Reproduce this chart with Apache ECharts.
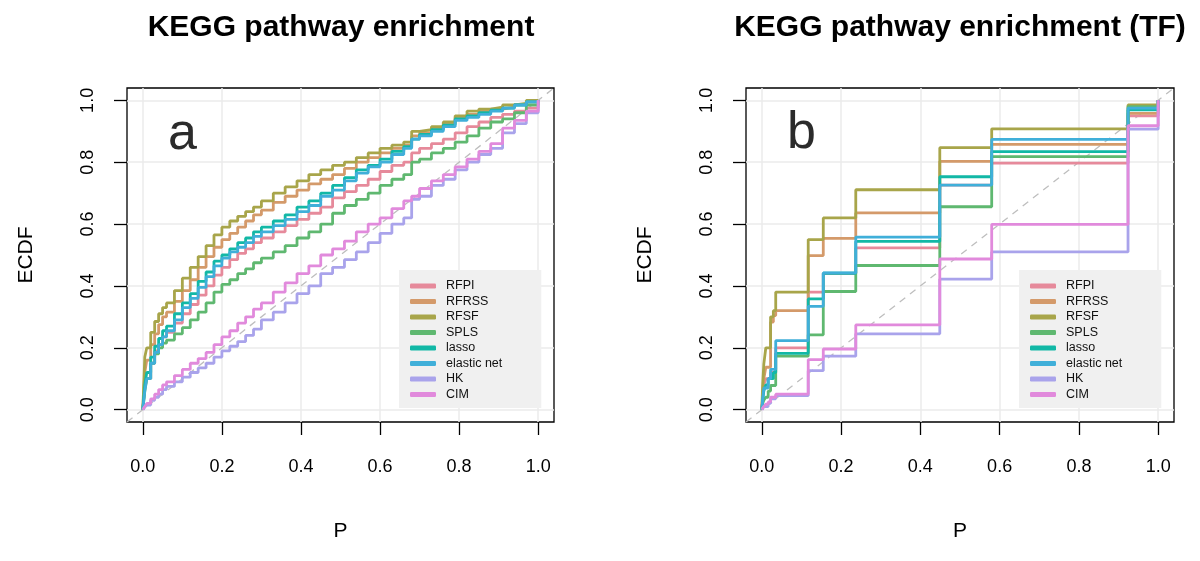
<!DOCTYPE html>
<html><head><meta charset="utf-8">
<script src="https://cdn.jsdelivr.net/npm/echarts@6/dist/echarts.min.js"></script>
<style>html,body{margin:0;padding:0;background:#fff}#c{width:1200px;height:561px}</style>
</head><body><div id="c"></div>
<script>
// ---------- data ----------
const methods = ['RFPI','RFRSS','RFSF','SPLS','lasso','elastic net','HK','CIM'];
const colors  = ['#E68A9B','#D49A6A','#A8A54A','#5FB870','#12B8A6','#40AFD9','#A9A3EB','#E18ADC'];
const tickValues = [0, 0.2, 0.4, 0.6, 0.8, 1.0];
const titleA = 'KEGG pathway enrichment';
const titleB = 'KEGG pathway enrichment (TF)';
const diagEnds = [-0.04, 1.04];
const tagPos = [0.1, 0.9];

// panel a: P grid and ECDF values
const pA = [0,0.005,0.01,0.02,0.03,0.04,0.05,0.06,0.08,0.10,0.12,0.14,0.16,0.18,0.20,0.22,0.24,0.26,0.28,0.30,0.33,0.36,0.39,0.42,0.45,0.48,0.51,0.54,0.57,0.60,0.63,0.66,0.68,0.70,0.73,0.76,0.79,0.82,0.85,0.88,0.91,0.94,0.97,1.00];
const aRFPI  = [0,0.07,0.10,0.15,0.19,0.21,0.235,0.25,0.28,0.31,0.34,0.37,0.40,0.435,0.46,0.485,0.505,0.52,0.54,0.555,0.575,0.595,0.615,0.635,0.655,0.685,0.705,0.725,0.745,0.77,0.79,0.80,0.83,0.845,0.86,0.875,0.895,0.915,0.93,0.945,0.955,0.965,0.975,1];
const aRFRSS = [0,0.12,0.16,0.21,0.245,0.275,0.30,0.315,0.35,0.385,0.42,0.46,0.495,0.525,0.55,0.57,0.59,0.61,0.63,0.645,0.67,0.69,0.71,0.73,0.745,0.76,0.78,0.80,0.815,0.83,0.845,0.855,0.885,0.895,0.91,0.925,0.945,0.955,0.965,0.972,0.978,0.987,0.995,1];
const aRFSF  = [0,0.17,0.20,0.25,0.285,0.31,0.33,0.345,0.385,0.425,0.46,0.495,0.53,0.565,0.59,0.61,0.625,0.64,0.655,0.675,0.70,0.72,0.74,0.76,0.775,0.79,0.80,0.815,0.83,0.845,0.855,0.865,0.90,0.905,0.915,0.93,0.95,0.965,0.972,0.978,0.985,0.99,1.0,1];
const aSPLS  = [0,0.06,0.10,0.15,0.18,0.20,0.215,0.225,0.245,0.265,0.29,0.315,0.345,0.38,0.405,0.42,0.44,0.455,0.475,0.49,0.51,0.53,0.555,0.575,0.60,0.635,0.66,0.68,0.70,0.725,0.745,0.76,0.80,0.81,0.83,0.845,0.865,0.885,0.91,0.93,0.94,0.96,0.985,1];
const aLasso = [0,0.08,0.12,0.17,0.205,0.23,0.255,0.27,0.31,0.345,0.375,0.415,0.445,0.48,0.50,0.52,0.54,0.555,0.575,0.59,0.61,0.63,0.655,0.675,0.70,0.725,0.75,0.775,0.79,0.81,0.835,0.85,0.875,0.89,0.905,0.92,0.94,0.95,0.96,0.968,0.975,0.985,0.995,1];
const aENet  = [0,0.06,0.10,0.15,0.185,0.21,0.235,0.255,0.29,0.33,0.36,0.395,0.43,0.465,0.49,0.51,0.525,0.54,0.56,0.575,0.595,0.615,0.64,0.66,0.69,0.71,0.74,0.765,0.785,0.80,0.825,0.845,0.875,0.885,0.90,0.915,0.935,0.945,0.955,0.965,0.975,0.985,0.995,1];
const aHK    = [0,0.008,0.015,0.03,0.04,0.05,0.065,0.075,0.09,0.105,0.12,0.135,0.15,0.17,0.19,0.205,0.22,0.24,0.26,0.29,0.315,0.345,0.375,0.40,0.44,0.46,0.485,0.51,0.54,0.57,0.60,0.62,0.68,0.69,0.725,0.745,0.775,0.80,0.825,0.845,0.895,0.925,0.96,1];
const aCIM   = [0,0.01,0.02,0.035,0.05,0.065,0.08,0.09,0.11,0.13,0.15,0.165,0.185,0.21,0.235,0.255,0.28,0.30,0.325,0.345,0.38,0.41,0.44,0.465,0.50,0.52,0.545,0.575,0.60,0.62,0.65,0.675,0.69,0.715,0.74,0.76,0.785,0.81,0.835,0.86,0.91,0.935,0.965,1];

// panel b: P grid and ECDF values
const pB = [0,0.002,0.005,0.01,0.016,0.022,0.029,0.035,0.117,0.155,0.237,0.449,0.58,0.924,1.0];
const bRFPI  = [0,0.04,0.08,0.10,0.10,0.12,0.12,0.20,0.38,0.44,0.523,0.726,0.797,0.95,1];
const bRFRSS = [0,0.05,0.10,0.137,0.137,0.283,0.304,0.32,0.498,0.554,0.636,0.803,0.858,0.958,1];
const bRFSF  = [0,0.08,0.148,0.20,0.20,0.30,0.32,0.38,0.55,0.62,0.711,0.847,0.908,0.985,1];
const bSPLS  = [0,0.02,0.03,0.04,0.06,0.078,0.078,0.173,0.242,0.382,0.466,0.656,0.818,0.98,1];
const bLasso = [0,0.03,0.06,0.08,0.10,0.10,0.12,0.182,0.358,0.441,0.544,0.753,0.834,0.969,1];
const bENet  = [0,0.03,0.07,0.07,0.10,0.13,0.13,0.223,0.334,0.442,0.558,0.726,0.874,0.975,1];
const bHK    = [0,0.005,0.01,0.01,0.02,0.035,0.035,0.045,0.126,0.173,0.245,0.422,0.51,0.907,1];
const bCIM   = [0,0.005,0.01,0.018,0.025,0.04,0.04,0.05,0.162,0.196,0.274,0.487,0.599,0.918,1];

const valsA = [aRFPI,aRFRSS,aRFSF,aSPLS,aLasso,aENet,aHK,aCIM];
const valsB = [bRFPI,bRFRSS,bRFSF,bSPLS,bLasso,bENet,bHK,bCIM];

// ---------- chart ----------
const FONT = 'Liberation Sans, Arial, Helvetica, sans-serif';
const gridPos = [{left:127, top:88, width:427, height:334},{left:746, top:88, width:428, height:334}];

function xAxisFor(i){
  return {gridIndex:i, type:'value', min:-0.04, max:1.04,
    axisLine:{show:false, onZero:false},
    axisTick:{show:true, inside:false, length:13, customValues:tickValues, lineStyle:{color:'#000', width:1.3}},
    axisLabel:{customValues:tickValues, formatter:v=>Number(v).toFixed(1), fontSize:18, color:'#000', margin:36, fontFamily:FONT},
    splitLine:{show:true, lineStyle:{color:'#ebebeb', width:1.5}},
    name:'P', nameLocation:'middle', nameGap:99, nameTextStyle:{fontSize:21, color:'#000', fontFamily:FONT}};
}
function yAxisFor(i){
  return {gridIndex:i, type:'value', min:-0.04, max:1.04,
    axisLine:{show:false, onZero:false},
    axisTick:{show:true, inside:false, length:13, customValues:tickValues, lineStyle:{color:'#000', width:1.3}},
    axisLabel:{customValues:tickValues, formatter:v=>Number(v).toFixed(1), fontSize:18, color:'#000', margin:30, rotate:90, fontFamily:FONT},
    splitLine:{show:true, lineStyle:{color:'#ebebeb', width:1.5}},
    name:'ECDF', nameLocation:'middle', nameGap:90, nameTextStyle:{fontSize:21, color:'#000', fontFamily:FONT}};
}

const series = [];
[0,1].forEach(idx=>{
  series.push({type:'line', xAxisIndex:idx, yAxisIndex:idx, showSymbol:false, symbol:'none', silent:true,
    data:[[diagEnds[0],diagEnds[0]],[diagEnds[1],diagEnds[1]]],
    lineStyle:{color:'#bebebe', width:1.3, type:[7,6]}, z:2});
  const P = idx===0 ? pA : pB;
  const V = idx===0 ? valsA : valsB;
  methods.forEach((m,i)=>{
    series.push({name:m, type:'line', xAxisIndex:idx, yAxisIndex:idx, step:'end', showSymbol:false, symbol:'none', silent:true,
      data:P.map((p,j)=>[p, V[i][j]]),
      lineStyle:{width:2.8, color:colors[i]}, itemStyle:{color:colors[i]}, z:3});
  });
  series.push({type:'scatter', xAxisIndex:idx, yAxisIndex:idx, silent:true, symbolSize:2, itemStyle:{color:'rgba(0,0,0,0)'},
    data:[tagPos],
    label:{show:true, position:'inside', formatter: idx===0?'a':'b', fontSize:52, color:'#2b2b2b', opacity:1, fontFamily:FONT, offset:[0, idx===0?3:2]}, z:4});
});

function legendFor(left){
  return {data:methods, orient:'vertical', left:left, top:270, selectedMode:false,
    icon:'roundRect', itemWidth:26, itemHeight:5, itemGap:2.5,
    backgroundColor:'#f0f0f0', padding:[9.5,39,7,11], borderRadius:0,
    textStyle:{fontSize:12.5, color:'#111', fontFamily:FONT, lineHeight:13, padding:[0,0,0,5]}};
}

const chart = echarts.init(document.getElementById('c'), null, {renderer:'canvas'});
chart.setOption({
  animation:false,
  backgroundColor:'#fff',
  grid: gridPos.map(g=>Object.assign({show:true, borderColor:'#000', borderWidth:1.3, backgroundColor:'transparent', containLabel:false}, g)),
  xAxis:[xAxisFor(0), xAxisFor(1)],
  yAxis:[yAxisFor(0), yAxisFor(1)],
  legend:[legendFor(399), legendFor(1019)],
  graphic:[
    {type:'text', x:341, y:28, style:{text:titleA, font:'bold 30px '+FONT, fill:'#000', textAlign:'center', textVerticalAlign:'middle'}},
    {type:'text', x:960, y:28, style:{text:titleB, font:'bold 30px '+FONT, fill:'#000', textAlign:'center', textVerticalAlign:'middle'}}
  ],
  series: series
});
</script></body></html>
